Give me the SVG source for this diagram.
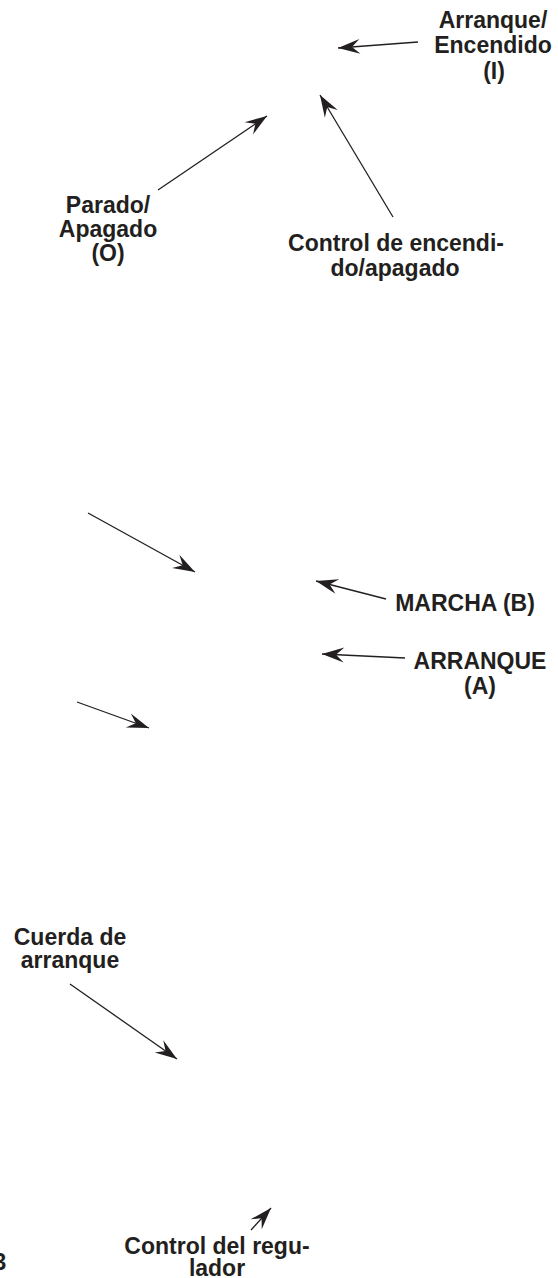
<svg xmlns="http://www.w3.org/2000/svg" width="558" height="1278" viewBox="0 0 558 1278">
<style>
.t{font-family:"Liberation Sans",Arial,sans-serif;font-weight:bold;font-size:23px;fill:#231f20;text-anchor:middle}
.c line{stroke:#231f20;stroke-width:1.3;fill:none;marker-end:url(#ah)}
</style>
<defs>
<marker id="ah" viewBox="-23 -9 24 18" refX="0" refY="0" markerWidth="24" markerHeight="18" markerUnits="userSpaceOnUse" orient="auto">
<path d="M0,0 L-22,-7.5 L-14,0 L-22,7.5 Z" fill="#231f20"/>
</marker>
</defs>
<rect width="558" height="1278" fill="#fff"/>
<g id="connectors" class="c">
<line x1="418" y1="42" x2="338" y2="48"/>
<line x1="158" y1="190" x2="267" y2="116"/>
<line x1="393" y1="217" x2="320" y2="95"/>
<line x1="88" y1="513" x2="195" y2="572"/>
<line x1="386" y1="599" x2="316" y2="581"/>
<line x1="405" y1="658" x2="322" y2="654"/>
<line x1="77" y1="702" x2="149" y2="728"/>
<line x1="70" y1="984" x2="177" y2="1059"/>
<line x1="251" y1="1230" x2="271" y2="1208"/>
</g>
<g id="label-arranque-encendido"><text class="t" x="493" y="28">Arranque/</text><text class="t" x="493" y="53">Encendido</text><text class="t" x="494" y="79">(I)</text></g>
<g id="label-parado"><text class="t" x="108" y="213">Parado/</text><text class="t" x="108" y="237">Apagado</text><text class="t" x="108" y="261">(O)</text></g>
<g id="label-control-encendido"><text class="t" x="396" y="251">Control de encendi-</text><text class="t" x="395" y="276">do/apagado</text></g>
<g id="label-marcha"><text class="t" x="465" y="611">MARCHA (B)</text></g>
<g id="label-arranque-a"><text class="t" x="480" y="669">ARRANQUE</text><text class="t" x="480" y="694">(A)</text></g>
<g id="label-cuerda"><text class="t" x="70" y="945">Cuerda de</text><text class="t" x="70" y="968">arranque</text></g>
<g id="label-regulador"><text class="t" x="217" y="1254">Control del regu-</text><text class="t" x="217" y="1276">lador</text></g>
<g id="page-number"><text class="t" x="0" y="1270">3</text></g>
</svg>
